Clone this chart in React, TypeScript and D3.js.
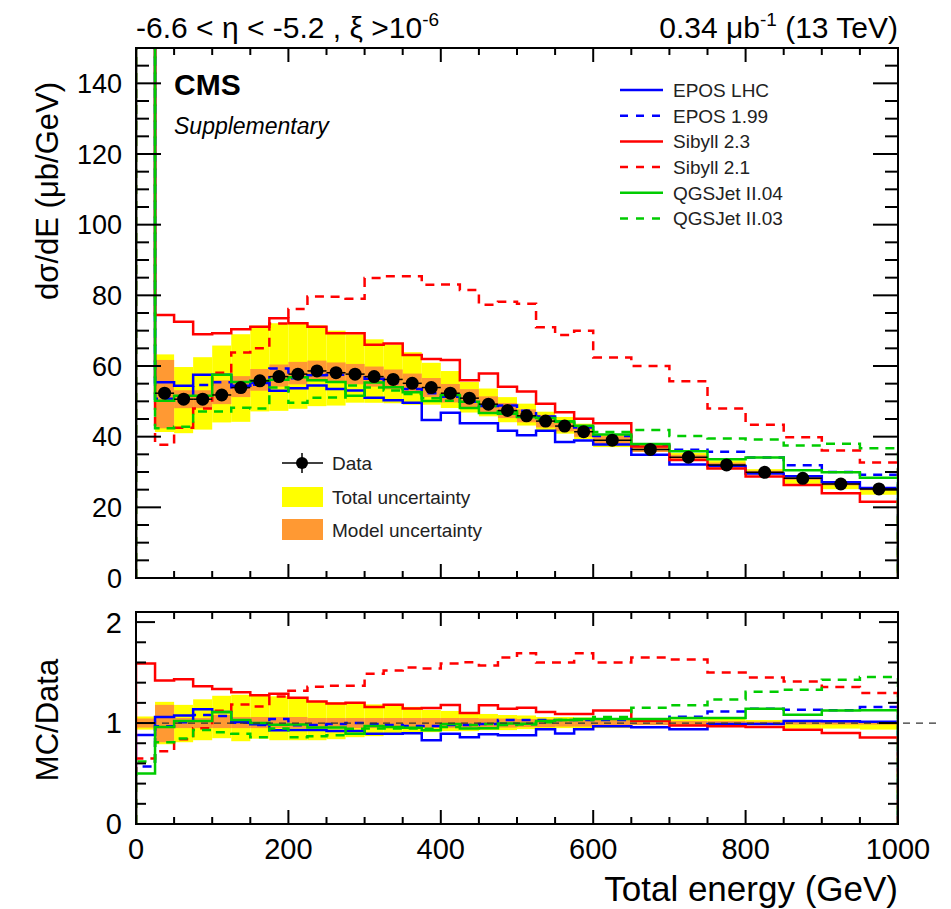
import React from "react";
import * as d3 from "d3";

// bin edges in GeV (25 GeV bins up to 600, then 50 GeV bins)
const binEdges = [0, 25, 50, 75, 100, 125, 150, 175, 200, 225, 250, 275, 300, 325, 350, 375, 400, 425, 450, 475, 500, 525, 550, 575, 600, 650, 700, 750, 800, 850, 900, 950, 1000];

// measured dsigma/dE (first bin is off scale)
const dataValues = [320, 52.3, 50.6, 50.6, 51.8, 53.9, 55.8, 57.0, 57.7, 58.6, 58.1, 57.7, 57.0, 56.2, 55.1, 53.9, 52.3, 50.9, 49.2, 47.4, 45.9, 44.4, 43.0, 41.4, 39.0, 36.4, 34.2, 32.0, 29.9, 28.2, 26.6, 25.2];

// relative uncertainties
const totalUp = [0.065, 0.21, 0.18, 0.235, 0.27, 0.28, 0.28, 0.265, 0.255, 0.22, 0.205, 0.195, 0.185, 0.175, 0.16, 0.13, 0.12, 0.09, 0.09, 0.08, 0.075, 0.06, 0.06, 0.055, 0.04, 0.04, 0.035, 0.04, 0.03, 0.01, 0.01, 0.01];
const totalDown = [0.065, 0.21, 0.19, 0.17, 0.15, 0.18, 0.155, 0.17, 0.17, 0.17, 0.16, 0.14, 0.13, 0.12, 0.11, 0.09, 0.08, 0.08, 0.07, 0.07, 0.06, 0.06, 0.05, 0.05, 0.05, 0.02, 0.025, 0.02, 0.02, 0.055, 0.055, 0.065];
const modelUp = [0.045, 0.18, 0.05, 0.05, 0.08, 0.06, 0.06, 0.06, 0.06, 0.05, 0.05, 0.05, 0.05, 0.05, 0.05, 0.05, 0.05, 0.05, 0.045, 0.045, 0.04, 0.04, 0.04, 0.035, 0.03, 0.02, 0.02, 0.02, 0.015, 0.015, 0.015, 0.015];
const modelDown = [0.045, 0.19, 0.05, 0.05, 0.05, 0.05, 0.05, 0.05, 0.05, 0.05, 0.05, 0.05, 0.05, 0.05, 0.05, 0.05, 0.05, 0.05, 0.045, 0.045, 0.04, 0.04, 0.035, 0.035, 0.03, 0.02, 0.02, 0.02, 0.015, 0.015, 0.015, 0.015];

// MC predictions
const eposLHC = [282, 55.4, 54.4, 57.5, 57.5, 54.4, 55.2, 53.0, 53.7, 54.5, 53.5, 53.1, 51.0, 50.3, 49.6, 44.7, 46.8, 43.8, 43.8, 41.7, 40.4, 41.7, 38.5, 38.9, 37.8, 34.9, 32.1, 31.7, 29.6, 28.8, 27.1, 25.5];
const epos199 = [182, 50.7, 51.0, 54.6, 55.4, 54.0, 54.7, 59.3, 56.5, 57.4, 57.5, 57.7, 56.4, 55.1, 53.5, 52.3, 51.3, 49.9, 48.7, 48.8, 47.3, 45.7, 44.3, 42.6, 40.2, 37.5, 36.3, 35.7, 34.1, 31.9, 30.0, 29.2];
const sibyll23 = [509, 74.4, 72.5, 69.0, 69.3, 70.4, 71.1, 73.5, 72.1, 71.1, 69.3, 69.3, 66.0, 66.4, 63.1, 62.0, 61.7, 56.0, 57.9, 54.1, 52.8, 49.3, 46.9, 45.1, 43.8, 37.2, 33.4, 31.0, 28.7, 26.3, 24.0, 21.6];
const sibyll21 = [208, 37.7, 42.5, 48.0, 58.1, 63.8, 65.0, 72.0, 76.1, 79.7, 79.6, 79.0, 84.9, 85.4, 85.4, 83.0, 83.1, 81.5, 77.3, 78.2, 77.6, 71.0, 68.8, 70.0, 62.4, 60.0, 55.7, 48.0, 43.4, 39.8, 36.1, 32.7];
const qgsjet04 = [160, 50.2, 51.6, 51.6, 57.5, 55.5, 55.8, 56.1, 56.8, 56.0, 55.5, 51.6, 55.3, 54.0, 52.6, 50.1, 51.8, 48.1, 46.7, 47.2, 45.6, 45.3, 44.3, 43.1, 40.6, 37.9, 35.9, 33.6, 34.1, 30.5, 29.9, 28.4];
const qgsjet03 = [198, 42.4, 42.8, 47.1, 47.1, 48.2, 48.0, 53.9, 49.6, 51.0, 51.1, 54.5, 53.9, 53.1, 52.1, 50.9, 50.2, 49.9, 48.7, 46.5, 45.2, 44.8, 44.3, 42.6, 41.3, 41.9, 40.2, 39.5, 39.2, 37.5, 38.0, 36.7];

const models = [
  { name: "EPOS LHC", vals: eposLHC, color: "#0000ff", dashed: false },
  { name: "EPOS 1.99", vals: epos199, color: "#0000ff", dashed: true },
  { name: "Sibyll 2.3", vals: sibyll23, color: "#ff0000", dashed: false },
  { name: "Sibyll 2.1", vals: sibyll21, color: "#ff0000", dashed: true },
  { name: "QGSJet II.04", vals: qgsjet04, color: "#00cc00", dashed: false },
  { name: "QGSJet II.03", vals: qgsjet03, color: "#00cc00", dashed: true },
];

const xTicks = [0, 200, 400, 600, 800, 1000];
const yTicksMain = [0, 20, 40, 60, 80, 100, 120, 140];
const yTicksRatio = [0, 1, 2];

const FONT = "'Liberation Sans', Arial, Helvetica, sans-serif";
const DASH = "9,7";

// layout
const L = 136, R = 898;
const mainTop = 48, mainBottom = 578;
const ratTop = 612, ratBottom = 824;

const x = d3.scaleLinear().domain([0, 1000]).range([L, R]);
const yMain = d3.scaleLinear().domain([0, 150]).range([mainBottom, mainTop]);
const yRat = d3.scaleLinear().domain([0, 2.1]).range([ratBottom, ratTop]);

function stepPath(vals: number[], y: d3.ScaleLinear<number, number>) {
  const pts: [number, number][] = [[binEdges[0], 0]];
  vals.forEach((v, i) => {
    pts.push([binEdges[i], v]);
    pts.push([binEdges[i + 1], v]);
  });
  pts.push([binEdges[binEdges.length - 1], 0]);
  return d3.line<[number, number]>().x(d => x(d[0])).y(d => y(d[1]))(pts) || "";
}

function Frame({ y, top, bottom, majors, xMaj, xMin, yMaj, yMin }: any) {
  const xMinor = x.ticks(20);
  const yMinor = y.ticks(majors.length > 3 ? 30 : 10);
  const st = { stroke: "#000", strokeWidth: 2 };
  return (
    <g>
      {xMinor.map((t: number) => {
        const len = xTicks.includes(t) ? xMaj : xMin;
        return (
          <g key={"x" + t}>
            <line x1={x(t)} x2={x(t)} y1={bottom} y2={bottom - len} {...st} />
            <line x1={x(t)} x2={x(t)} y1={top} y2={top + len} {...st} />
          </g>
        );
      })}
      {yMinor.map((t: number) => {
        const len = majors.includes(t) ? yMaj : yMin;
        return (
          <g key={"y" + t}>
            <line x1={L} x2={L + len} y1={y(t)} y2={y(t)} {...st} />
            <line x1={R} x2={R - len} y1={y(t)} y2={y(t)} {...st} />
          </g>
        );
      })}
      <rect x={L} y={top} width={R - L} height={bottom - top} fill="none" {...st} />
    </g>
  );
}

export default function App() {
  const ratios = models.map(m => m.vals.map((v, i) => v / dataValues[i]));
  const bins = dataValues.map((d, i) => ({ i, d, x0: binEdges[i], x1: binEdges[i + 1] }));

  return (
    <div style={{ position: "absolute", left: 0, top: 0 }}>
      <svg width={951} height={909} style={{ display: "block", background: "#fff" }} fontFamily={FONT}>
        <defs>
          <clipPath id="clipMain">
            <rect x={L} y={mainTop} width={R - L} height={mainBottom - mainTop} />
          </clipPath>
          <clipPath id="clipRat">
            <rect x={L} y={ratTop} width={R - L} height={ratBottom - ratTop} />
          </clipPath>
        </defs>

        {/* header */}
        <text x={136} y={38} fontSize={30}>
          -6.6 &lt; η &lt; -5.2 , ξ &gt;10<tspan dy={-12} fontSize={19}>-6</tspan>
        </text>
        <text x={898} y={38} fontSize={30} textAnchor="end">
          0.34 μb<tspan dy={-12} fontSize={19}>-1</tspan><tspan dy={12}> (13 TeV)</tspan>
        </text>

        {/* main panel */}
        <g clipPath="url(#clipMain)">
          {bins.map(b => (
            <rect key={"ty" + b.i} x={x(b.x0)} width={x(b.x1) - x(b.x0)}
              y={yMain(b.d * (1 + totalUp[b.i]))}
              height={yMain(b.d * (1 - totalDown[b.i])) - yMain(b.d * (1 + totalUp[b.i]))}
              fill="#ffff00" />
          ))}
          {bins.map(b => (
            <rect key={"to" + b.i} x={x(b.x0)} width={x(b.x1) - x(b.x0)}
              y={yMain(b.d * (1 + modelUp[b.i]))}
              height={yMain(b.d * (1 - modelDown[b.i])) - yMain(b.d * (1 + modelUp[b.i]))}
              fill="#ff9933" />
          ))}
          {models.map(m => (
            <path key={m.name} d={stepPath(m.vals, yMain)} fill="none" stroke={m.color}
              strokeWidth={2.5} strokeDasharray={m.dashed ? DASH : undefined} />
          ))}
          {bins.map(b => (
            <g key={"d" + b.i}>
              <line x1={x(b.x0)} x2={x(b.x1)} y1={yMain(b.d)} y2={yMain(b.d)} stroke="#000" strokeWidth={1.5} />
              <circle cx={x((b.x0 + b.x1) / 2)} cy={yMain(b.d)} r={6.5} fill="#000" />
            </g>
          ))}
        </g>
        <Frame y={yMain} top={mainTop} bottom={mainBottom} majors={yTicksMain} xMaj={14} xMin={7} yMaj={25} yMin={13} />
        {yTicksMain.map(t => (
          <text key={t} x={122} y={yMain(t)} dy="0.36em" fontSize={27} textAnchor="end">{t}</text>
        ))}

        <text x={174} y={95} fontSize={30} fontWeight="bold">CMS</text>
        <text x={174} y={134} fontSize={23} fontStyle="italic">Supplementary</text>

        {/* model legend */}
        {models.map((m, i) => {
          const ly = 90 + i * 25.7;
          return (
            <g key={"lg" + m.name}>
              <line x1={620} x2={663} y1={ly} y2={ly} stroke={m.color} strokeWidth={2.5}
                strokeDasharray={m.dashed ? "8,8" : undefined} />
              <text x={673} y={ly} dy="0.36em" fontSize={19} fill="#222">{m.name}</text>
            </g>
          );
        })}

        {/* data legend */}
        <line x1={282} x2={323} y1={463} y2={463} stroke="#000" strokeWidth={1.5} />
        <line x1={302} x2={302} y1={453} y2={473} stroke="#000" strokeWidth={1.5} />
        <circle cx={302} cy={463} r={6} fill="#000" />
        <text x={332} y={463} dy="0.36em" fontSize={19} fill="#222">Data</text>
        <rect x={282} y={487} width={41} height={20} fill="#ffff00" />
        <text x={332} y={497} dy="0.36em" fontSize={19} fill="#222">Total uncertainty</text>
        <rect x={282} y={519} width={41} height={21} fill="#ff9933" />
        <text x={332} y={530} dy="0.36em" fontSize={19} fill="#222">Model uncertainty</text>

        <text transform={`translate(58,82) rotate(-90)`} fontSize={31} textAnchor="end">dσ/dE (μb/GeV)</text>

        {/* ratio panel */}
        <g clipPath="url(#clipRat)">
          {bins.map(b => (
            <rect key={"ry" + b.i} x={x(b.x0)} width={x(b.x1) - x(b.x0)}
              y={yRat(1 + totalUp[b.i])} height={yRat(1 - totalDown[b.i]) - yRat(1 + totalUp[b.i])}
              fill="#ffff00" />
          ))}
          {bins.map(b => (
            <rect key={"ro" + b.i} x={x(b.x0)} width={x(b.x1) - x(b.x0)}
              y={yRat(1 + modelUp[b.i])} height={yRat(1 - modelDown[b.i]) - yRat(1 + modelUp[b.i])}
              fill="#ff9933" />
          ))}
          {models.map((m, k) => (
            <path key={"r" + m.name} d={stepPath(ratios[k], yRat)} fill="none" stroke={m.color}
              strokeWidth={2.5} strokeDasharray={m.dashed ? DASH : undefined} />
          ))}
        </g>
        <line x1={x(0)} x2={x(1050)} y1={yRat(1)} y2={yRat(1)} stroke="#333" strokeWidth={1.3} strokeDasharray="7,6" />
        <Frame y={yRat} top={ratTop} bottom={ratBottom} majors={yTicksRatio} xMaj={14} xMin={7} yMaj={19} yMin={10} />
        {yTicksRatio.map(t => (
          <text key={t} x={122} y={yRat(t)} dy="0.36em" fontSize={29} textAnchor="end">{t}</text>
        ))}
        {xTicks.map(t => (
          <text key={t} x={x(t)} y={859} fontSize={29} textAnchor="middle">{t}</text>
        ))}
        <text transform={`translate(58,720) rotate(-90)`} fontSize={31} textAnchor="middle">MC/Data</text>
        <text x={898} y={901} fontSize={35} textAnchor="end">Total energy (GeV)</text>
      </svg>
    </div>
  );
}
